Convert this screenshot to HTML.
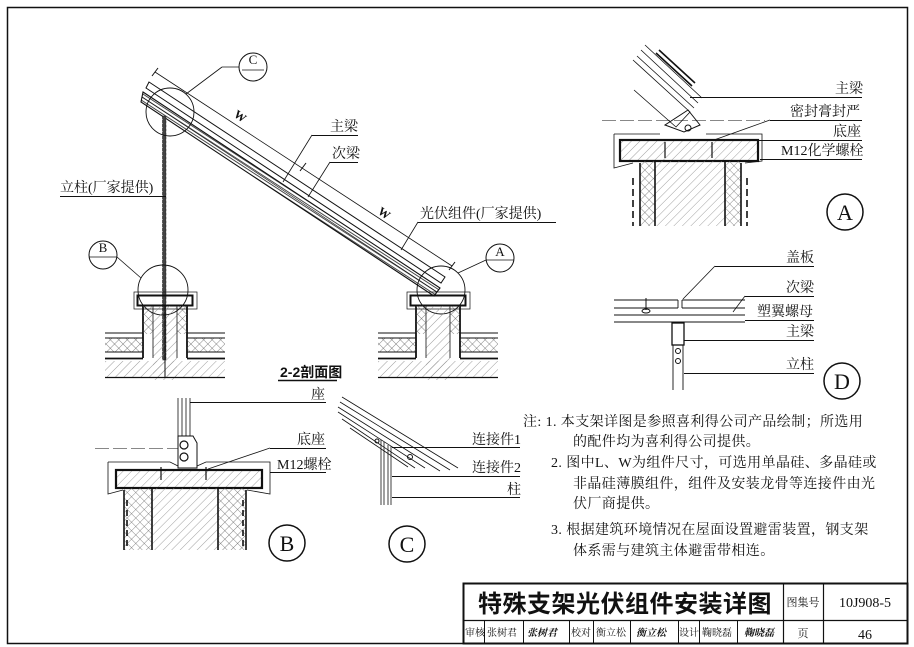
<!DOCTYPE html>
<html><head><meta charset="utf-8"><style>
html,body{margin:0;padding:0;background:#fff;}
body{width:914px;height:647px;overflow:hidden;}
svg{display:block;}
text{font-family:"Liberation Serif","Noto Serif CJK SC","Noto Sans CJK SC",serif;fill:#111;}
.s{font-family:"Liberation Sans","Noto Sans CJK SC",sans-serif;}
</style></head><body>
<svg width="914" height="647" viewBox="0 0 914 647" xmlns="http://www.w3.org/2000/svg">
<defs>
<pattern id="h" width="6" height="6" patternUnits="userSpaceOnUse" patternTransform="rotate(45)"><line x1="0" y1="0" x2="0" y2="6" stroke="#888" stroke-width="0.8"/></pattern>
<pattern id="x" width="6" height="6" patternUnits="userSpaceOnUse" patternTransform="rotate(45)"><line x1="0" y1="0" x2="0" y2="6" stroke="#555" stroke-width="0.7"/><line x1="0" y1="0" x2="6" y2="0" stroke="#555" stroke-width="0.7"/></pattern>
<pattern id="b" width="3" height="3" patternUnits="userSpaceOnUse" patternTransform="rotate(33)"><line x1="0" y1="1" x2="3" y2="1" stroke="#333" stroke-width="0.9"/></pattern>
</defs>
<g fill="none" stroke="#111">
<rect x="7.5" y="7.5" width="900" height="636" stroke-width="1.5"/>
<rect x="463.5" y="583.5" width="444" height="60" stroke-width="2"/>
<line x1="463" y1="620.5" x2="907" y2="620.5" stroke-width="1.2"/>
<line x1="783.5" y1="583" x2="783.5" y2="643" stroke-width="1.2"/>
<line x1="823.5" y1="583" x2="823.5" y2="643" stroke-width="1.2"/>
<g stroke-width="1"><line x1="484.5" y1="620" x2="484.5" y2="643"/><line x1="523.5" y1="620" x2="523.5" y2="643"/><line x1="569.5" y1="620" x2="569.5" y2="643"/><line x1="593.5" y1="620" x2="593.5" y2="643"/><line x1="630.5" y1="620" x2="630.5" y2="643"/><line x1="678.5" y1="620" x2="678.5" y2="643"/><line x1="699.5" y1="620" x2="699.5" y2="643"/><line x1="737.5" y1="620" x2="737.5" y2="643"/></g>

<line x1="155" y1="72" x2="452" y2="266" stroke-width="0.8"/>
<line x1="152" y1="76" x2="158" y2="68" stroke-width="1"/>
<line x1="300" y1="171" x2="306" y2="163" stroke-width="1"/>
<line x1="449" y1="270" x2="455" y2="262" stroke-width="1"/>
<polygon points="149,82 445,277 441,283 146,88" stroke-width="1"/>
<polygon points="143,92 440,288 434,296 141,102" fill="url(#b)" stroke-width="1.1"/>
<line x1="142" y1="97" x2="437" y2="292" stroke-width="0.6"/>
<rect x="162.5" y="116" width="3.5" height="244" fill="#444" stroke-width="0.5" stroke-dasharray="3,1"/>
<circle cx="170" cy="112" r="24" stroke-width="0.9"/>
<circle cx="163" cy="290" r="25" stroke-width="0.9"/>
<circle cx="441" cy="290" r="24" stroke-width="0.9"/>
<circle cx="253" cy="67" r="14" stroke-width="1"/><line x1="242" y1="70" x2="264" y2="70" stroke-width="0.8"/>
<line x1="186" y1="94" x2="222" y2="67" stroke-width="0.8"/><line x1="222" y1="67" x2="239" y2="67" stroke-width="0.8"/>
<circle cx="103" cy="255" r="14" stroke-width="1"/><line x1="89" y1="257" x2="117" y2="257" stroke-width="0.8"/>
<line x1="117" y1="257" x2="141" y2="278" stroke-width="0.8"/>
<circle cx="500" cy="258" r="14" stroke-width="1"/><line x1="486" y1="260" x2="514" y2="260" stroke-width="0.8"/>
<line x1="486" y1="260" x2="458" y2="273" stroke-width="0.8"/>
<line x1="312" y1="135.5" x2="358" y2="135.5" stroke-width="0.9"/><line x1="312" y1="135" x2="283" y2="182" stroke-width="0.8"/>
<line x1="330" y1="162.5" x2="358" y2="162.5" stroke-width="0.9"/><line x1="330" y1="162" x2="308" y2="197" stroke-width="0.8"/>
<line x1="60" y1="196.5" x2="166" y2="196.5" stroke-width="0.9"/>
<line x1="418" y1="222.5" x2="556" y2="222.5" stroke-width="0.9"/><line x1="418" y1="222" x2="401" y2="250" stroke-width="0.8"/>
<g id="fd">
<rect x="134" y="292" width="63" height="17" stroke-width="0.7"/>
<rect x="137.5" y="295.5" width="55" height="10" stroke-width="2"/>
<rect x="153" y="306" width="24" height="74" fill="url(#h)" stroke="none"/>
<path d="M143,306 V358 M187,306 V358" stroke-width="1.8"/>
<path d="M153,306 V358 M177,306 V358" stroke-width="0.8"/>
<rect x="143" y="306" width="10" height="28" fill="url(#x)" stroke="none"/>
<rect x="177" y="306" width="10" height="28" fill="url(#x)" stroke="none"/>
<rect x="105" y="338" width="38" height="14" fill="url(#x)" stroke="none"/>
<rect x="187" y="338" width="38" height="14" fill="url(#x)" stroke="none"/>
<path d="M105,333 H143 M187,333 H225 M105,338 H143 M187,338 H225 M105,352 H143 M187,352 H225" stroke-width="0.9"/>
<path d="M105,358.5 H143 M187,358.5 H225" stroke-width="1.8"/>
<rect x="105" y="361" width="120" height="16" fill="url(#h)" stroke="none"/>
<line x1="105" y1="377.5" x2="225" y2="377.5" stroke-width="1.3"/>
</g>
<use href="#fd" transform="translate(273,0)"/>
<line x1="165" y1="306" x2="165" y2="378" stroke-width="1"/>
<line x1="278" y1="380.5" x2="337" y2="380.5" stroke-width="1.5"/>

<path d="M178,398 V436 M190,398 V436 M182,398 V436 M186,398 V436" stroke-width="0.8"/>
<path d="M178,436 H193 L197,443 V468 H178 Z" stroke-width="1"/>
<circle cx="184" cy="445" r="4" stroke-width="1.2"/><circle cx="184" cy="457" r="4" stroke-width="1.2"/>
<path d="M108,462 H170 L178,466 M197,466 L206,462 H270 V494 L247,490 M108,462 V494 L123,490" stroke-width="0.8"/>
<rect x="116" y="470" width="146" height="18" fill="url(#h)" stroke-width="2.2"/>
<rect x="152" y="488" width="66" height="62" fill="url(#h)" stroke="none"/>
<rect x="124" y="488" width="28" height="62" fill="url(#x)" stroke="none"/>
<rect x="218" y="488" width="28" height="62" fill="url(#x)" stroke="none"/>
<path d="M124,490 V550 M152,488 V550 M218,488 V550 M246,490 V550" stroke-width="1.6"/>
<path d="M127,500 V550 M243,500 V550" stroke-width="1.6" stroke-dasharray="6,4"/>
<path d="M161,467 V480 M206,467 V480" stroke-width="1.2"/>
<line x1="95" y1="448.5" x2="178" y2="448.5" stroke-width="0.5" stroke-dasharray="14,4"/>
<line x1="190" y1="402.5" x2="326" y2="402.5" stroke-width="0.9"/>
<line x1="270" y1="448.5" x2="326" y2="448.5" stroke-width="0.9"/><line x1="270" y1="448" x2="208" y2="469" stroke-width="0.8"/>
<line x1="270" y1="472.5" x2="326" y2="472.5" stroke-width="0.9"/>
<circle cx="287" cy="543" r="18" stroke-width="1.5"/>

<path d="M342,397 L458,468 M340,402 L450,470 M338,407 L440,471 M338,412 L425,468 M342,419 L415,468 M350,428 L408,467" stroke-width="0.8"/>
<path d="M381,440 V505 M391,446 V505 M384,442 V505 M388,445 V505" stroke-width="0.8"/>
<circle cx="377" cy="441" r="2" stroke-width="1"/><circle cx="410" cy="457" r="2.5" stroke-width="1"/>
<line x1="392" y1="447.5" x2="520" y2="447.5" stroke-width="0.9"/>
<line x1="392" y1="476.5" x2="520" y2="476.5" stroke-width="0.9"/>
<line x1="392" y1="497.5" x2="520" y2="497.5" stroke-width="0.9"/>
<circle cx="407" cy="544" r="18" stroke-width="1.5"/>

<path d="M656,53 L692,86 M659,50 L695,83" stroke-width="1.6"/>
<path d="M633,60 L690,112 L676,127 L634,90 M637,56 L694,108 M641,50 L698,103 M645,45 L702,98" stroke-width="0.8"/>
<path d="M665,125 L684,132 L700,125 L688,110 Z" stroke-width="1"/>
<circle cx="688" cy="128" r="3" stroke-width="1"/>
<path d="M614,134 H660 M706,134 H762 V161 L745,163 M614,134 V168 L633,163" stroke-width="0.8"/>
<rect x="620" y="140" width="138" height="21" fill="url(#h)" stroke-width="2.2"/>
<rect x="655" y="161" width="70" height="65" fill="url(#h)" stroke="none"/>
<rect x="640" y="161" width="15" height="65" fill="url(#x)" stroke="none"/>
<rect x="725" y="161" width="16" height="65" fill="url(#x)" stroke="none"/>
<path d="M640,163 V226 M655,161 V226 M725,161 V226 M741,163 V226" stroke-width="1.6"/>
<path d="M633,178 V226 M747,178 V226" stroke-width="1.6" stroke-dasharray="7,4"/>
<path d="M665,142 V158 M712,142 V158" stroke-width="1.2"/>
<line x1="602" y1="120.5" x2="765" y2="120.5" stroke-width="0.5" stroke-dasharray="14,4"/>
<line x1="690" y1="97.5" x2="862" y2="97.5" stroke-width="0.9"/>
<line x1="770" y1="120.5" x2="862" y2="120.5" stroke-width="0.9"/><line x1="770" y1="120" x2="714" y2="140" stroke-width="0.8"/>
<line x1="720" y1="140.5" x2="862" y2="140.5" stroke-width="0.9"/>
<line x1="760" y1="159.5" x2="862" y2="159.5" stroke-width="0.9"/>
<circle cx="845" cy="212" r="18" stroke-width="1.5"/>

<path d="M614,300 H678 M682,300 H745 M614,308 H678 M682,308 H745 M614,315 H745 M614,322 H745" stroke-width="0.9"/>
<path d="M678,300 V308 M682,300 V308" stroke-width="0.9"/>
<path d="M646,298 V310" stroke-width="1"/><ellipse cx="646" cy="311" rx="4" ry="2" stroke-width="1"/>
<rect x="672" y="323" width="12" height="22" stroke-width="1.3"/>
<path d="M673,345 V390 M683,345 V390" stroke-width="0.9"/>
<circle cx="678" cy="351" r="2.5" stroke-width="1"/><circle cx="678" cy="361" r="2.5" stroke-width="1"/>
<line x1="715" y1="266.5" x2="814" y2="266.5" stroke-width="0.9"/><line x1="715" y1="266" x2="683" y2="299" stroke-width="0.8"/>
<line x1="745" y1="296.5" x2="814" y2="296.5" stroke-width="0.9"/><line x1="745" y1="296" x2="733" y2="312" stroke-width="0.8"/>
<line x1="745" y1="320.5" x2="814" y2="320.5" stroke-width="0.9"/>
<line x1="684" y1="340.5" x2="814" y2="340.5" stroke-width="0.9"/>
<line x1="684" y1="373.5" x2="814" y2="373.5" stroke-width="0.9"/>
<circle cx="842" cy="381" r="18" stroke-width="1.5"/>
</g>

<g font-size="14">
<text x="253" y="64" text-anchor="middle" font-size="13">C</text>
<text x="103" y="252" text-anchor="middle" font-size="13">B</text>
<text x="500" y="256" text-anchor="middle" font-size="13">A</text>
<text x="330" y="131">主梁</text>
<text x="332" y="158">次梁</text>
<text x="60" y="192">立柱(厂家提供)</text>
<text x="420" y="218">光伏组件(厂家提供)</text>
<text x="233" y="116" font-size="12" font-weight="bold" transform="rotate(35 233 116)">W</text>
<text x="377" y="213" font-size="12" font-weight="bold" transform="rotate(35 377 213)">W</text>
<text x="280" y="377" class="s" font-weight="bold">2-2剖面图</text>
<text x="311" y="399">座</text>
<text x="297" y="444">底座</text>
<text x="277" y="469">M12螺栓</text>
<text x="287" y="551" text-anchor="middle" font-size="22">B</text>
<text x="472" y="444">连接件1</text>
<text x="472" y="472">连接件2</text>
<text x="507" y="494">柱</text>
<text x="407" y="552" text-anchor="middle" font-size="22">C</text>
<text x="835" y="93">主梁</text>
<text x="790" y="116">密封膏封严</text>
<text x="833" y="136">底座</text>
<text x="781" y="155">M12化学螺栓</text>
<text x="845" y="220" text-anchor="middle" font-size="22">A</text>
<text x="786" y="262">盖板</text>
<text x="786" y="292">次梁</text>
<text x="757" y="316">塑翼螺母</text>
<text x="786" y="336">主梁</text>
<text x="786" y="369">立柱</text>
<text x="842" y="389" text-anchor="middle" font-size="22">D</text>
</g>
<g font-size="14" letter-spacing="0.4">
<text x="523" y="426">注: 1. 本支架详图是参照喜利得公司产品绘制；所选用</text>
<text x="573" y="446">的配件均为喜利得公司提供。</text>
<text x="551" y="467">2. 图中L、W为组件尺寸，可选用单晶硅、多晶硅或</text>
<text x="573" y="488">非晶硅薄膜组件，组件及安装龙骨等连接件由光</text>
<text x="573" y="508">伏厂商提供。</text>
<text x="551" y="534">3. 根据建筑环境情况在屋面设置避雷装置，钢支架</text>
<text x="573" y="555">体系需与建筑主体避雷带相连。</text>
</g>
<text x="625" y="612" text-anchor="middle" class="s" font-size="24" font-weight="bold" letter-spacing="0.5">特殊支架光伏组件安装详图</text>
<text x="803" y="606" text-anchor="middle" font-size="11">图集号</text>
<text x="865" y="607" text-anchor="middle" font-size="14">10J908-5</text>
<g font-size="10">
<text x="465" y="636">审核</text><text x="487" y="636">张树君</text>
<text x="527" y="636" font-style="italic" font-weight="bold">张树君</text>
<text x="571" y="636">校对</text><text x="596" y="636">衡立松</text>
<text x="636" y="636" font-style="italic" font-weight="bold">衡立松</text>
<text x="679" y="636">设计</text><text x="702" y="636">鞠晓磊</text>
<text x="744" y="636" font-style="italic" font-weight="bold">鞠晓磊</text>
<text x="803" y="637" text-anchor="middle" font-size="11">页</text>
</g>
<text x="865" y="639" text-anchor="middle" font-size="14">46</text>
</svg>
</body></html>
